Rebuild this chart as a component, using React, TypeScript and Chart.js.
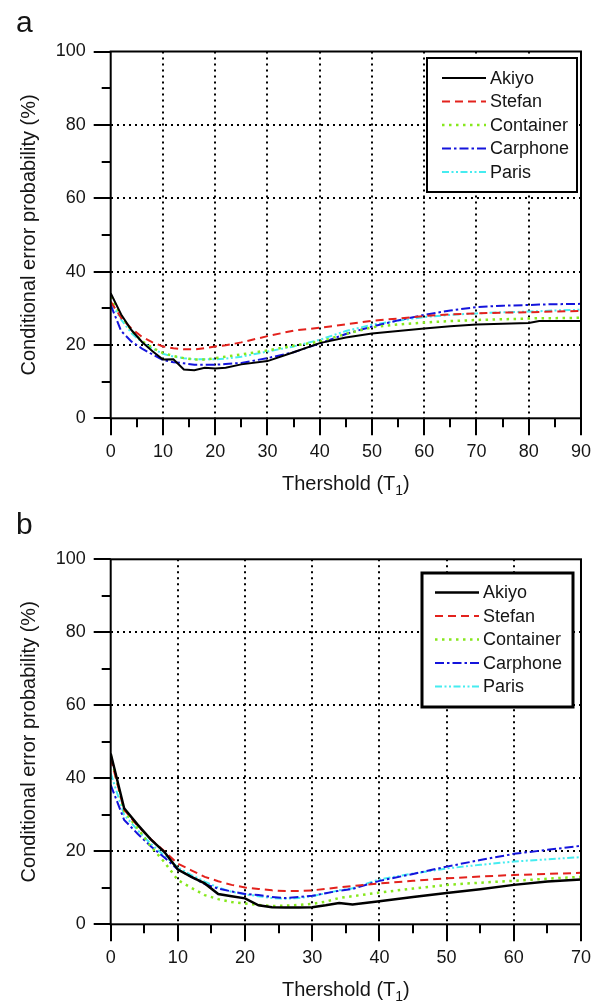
import { useEffect, useRef } from 'react';
import { Chart, registerables } from 'chart.js';

Chart.register(...registerables);

// ---------- data ----------
const SERIES_NAMES = ['Akiyo', 'Stefan', 'Container', 'Carphone', 'Paris'];

// panel a
const X_A = [0, 2, 4, 6, 8, 10, 12, 14, 16, 18, 20, 22, 25, 30, 35, 40, 45, 50, 55, 60, 65, 70, 75, 80, 82, 85, 90];
const AKIYO_A = [34.1, 28.3, 24.0, 20.8, 18.3, 16.0, 16.1, 13.3, 13.1, 13.8, 13.6, 13.8, 14.7, 15.6, 18.0, 20.5, 22.0, 23.1, 23.8, 24.5, 25.1, 25.6, 25.8, 26.0, 26.5, 26.5, 26.5];
const STEFAN_A = [31.8, 27.4, 24.4, 22.2, 20.7, 19.6, 19.1, 18.8, 18.8, 19.1, 19.6, 19.9, 20.7, 22.4, 23.9, 24.7, 25.6, 26.6, 27.2, 27.9, 28.3, 28.6, 28.8, 28.9, 29.0, 29.1, 29.3];
const CONTAINER_A = [33.2, 27.9, 23.9, 21.0, 19.2, 17.8, 17.0, 16.4, 16.0, 16.0, 16.4, 16.8, 17.4, 18.5, 19.8, 20.9, 23.0, 24.8, 25.6, 26.1, 26.5, 26.8, 27.0, 27.2, 27.3, 27.3, 27.4];
const CARPHONE_A = [30.9, 23.8, 20.9, 19.0, 17.4, 15.9, 15.3, 15.0, 14.6, 14.6, 14.6, 14.8, 15.1, 16.4, 18.0, 20.4, 23.0, 25.0, 26.7, 28.2, 29.4, 30.3, 30.7, 30.9, 31.0, 31.1, 31.2];
const PARIS_A = [31.6, 26.9, 23.2, 20.7, 19.0, 17.6, 16.8, 16.4, 16.1, 16.1, 16.1, 16.3, 16.8, 18.2, 19.6, 21.4, 23.8, 25.5, 26.6, 27.6, 28.2, 28.6, 28.9, 29.1, 29.2, 29.4, 29.6];

// panel b
const X_B = [0, 2, 4, 6, 8, 10, 12, 14, 16, 18, 20, 22, 24, 26, 28, 30, 32, 34, 36, 40, 45, 50, 55, 60, 65, 70];
const AKIYO_B = [46.8, 31.8, 27.3, 23.2, 19.8, 15.0, 13.0, 11.2, 8.3, 7.7, 7.1, 5.2, 4.7, 4.6, 4.6, 4.7, 5.2, 5.8, 5.4, 6.3, 7.5, 8.6, 9.6, 10.8, 11.7, 12.3];
const STEFAN_B = [45.5, 31.4, 27.0, 23.3, 20.0, 16.6, 14.8, 13.0, 11.8, 10.8, 10.1, 9.7, 9.3, 9.1, 9.1, 9.3, 9.7, 10.1, 10.5, 11.2, 11.9, 12.6, 13.1, 13.5, 13.8, 14.1];
const CONTAINER_B = [46.3, 31.0, 26.3, 21.3, 17.0, 12.1, 10.0, 8.0, 6.9, 6.1, 5.7, 5.3, 5.0, 5.1, 5.3, 5.6, 6.2, 7.2, 7.7, 8.7, 9.8, 10.8, 11.4, 11.9, 12.5, 13.0];
const CARPHONE_B = [38.2, 28.6, 24.8, 21.3, 18.3, 15.0, 13.0, 11.0, 9.8, 9.0, 8.3, 8.0, 7.5, 7.2, 7.5, 7.8, 8.5, 9.2, 9.7, 11.9, 13.8, 15.8, 17.6, 19.3, 20.4, 21.5];
const PARIS_B = [41.4, 30.0, 25.8, 22.0, 18.8, 15.6, 13.5, 11.7, 10.1, 8.9, 8.2, 7.7, 7.2, 7.0, 7.2, 7.7, 8.5, 9.3, 9.9, 12.3, 13.9, 15.3, 16.3, 17.2, 17.8, 18.4];

const Y_MAX = 100;
const X_MAX_A = 90;
const X_MAX_B = 70;
const X_TITLE = 'Thershold (T';
const X_TITLE_SUB = '1';
const Y_TITLE = 'Conditional error probability (%)';

// ---------- styles ----------
const FONT = '"Liberation Sans", Arial, Helvetica, sans-serif';
const STYLES = [
  { color: '#000000', dash: [] as number[], width: 2 },
  { color: '#e3221d', dash: [8, 5], width: 2 },
  { color: '#86e81c', dash: [2.5, 4.5], width: 2.5 },
  { color: '#1414dc', dash: [9, 3, 2.5, 3], width: 2 },
  { color: '#45ecf0', dash: [7, 2.5, 2, 2.5, 2, 2.5], width: 2 },
];

type LegendBox = { x: number; y: number; w: number; h: number; border: number; row0: number; gap: number; s0: number; s1: number; tx: number };
type PanelCfg = {
  letter: string;
  letterY: number;
  height: number;
  top: number;
  bottom: number;
  xMax: number;
  xs: number[];
  series: number[][];
  legend: LegendBox;
  lineBoost: number;
};

function makeDecor(cfg: PanelCfg) {
  return {
    id: 'decor' + cfg.letter,
    afterDraw(chart: any) {
      const ctx = chart.ctx as CanvasRenderingContext2D;
      const { left, right, top, bottom } = chart.chartArea;
      const xs = chart.scales.x;
      const ys = chart.scales.y;
      ctx.save();
      ctx.setLineDash([]);
      ctx.strokeStyle = '#000';
      ctx.lineWidth = 2;
      // frame
      ctx.strokeRect(left, top, right - left, bottom - top);
      // ticks
      ctx.beginPath();
      for (const t of xs.ticks) {
        const px = Math.round(xs.getPixelForValue(t.value)) + 0.0;
        const len = t.value % 10 === 0 ? 17 : 9;
        ctx.moveTo(px, bottom);
        ctx.lineTo(px, bottom + len);
      }
      for (const t of ys.ticks) {
        const py = Math.round(ys.getPixelForValue(t.value));
        const len = t.value % 20 === 0 ? 17 : 9;
        ctx.moveTo(left - len, py);
        ctx.lineTo(left, py);
      }
      ctx.stroke();

      // legend
      const L = cfg.legend;
      ctx.fillStyle = '#fff';
      ctx.fillRect(L.x, L.y, L.w, L.h);
      ctx.lineWidth = L.border;
      ctx.strokeStyle = '#000';
      ctx.strokeRect(L.x, L.y, L.w, L.h);
      chart.data.datasets.forEach((ds: any, i: number) => {
        const y = L.row0 + i * L.gap;
        ctx.strokeStyle = ds.borderColor;
        ctx.lineWidth = ds.borderWidth;
        ctx.setLineDash(ds.borderDash || []);
        ctx.beginPath();
        ctx.moveTo(L.s0, y);
        ctx.lineTo(L.s1, y);
        ctx.stroke();
        ctx.setLineDash([]);
        ctx.fillStyle = '#151515';
        ctx.font = '18px ' + FONT;
        ctx.textAlign = 'left';
        ctx.textBaseline = 'middle';
        ctx.fillText(ds.label, L.tx, y + 1);
      });

      // axis titles
      ctx.fillStyle = '#151515';
      ctx.font = '20px ' + FONT;
      ctx.textBaseline = 'alphabetic';
      const main = X_TITLE;
      const closing = ')';
      const wMain = ctx.measureText(main).width;
      const wClose = ctx.measureText(closing).width;
      ctx.font = '14px ' + FONT;
      const wSub = ctx.measureText(X_TITLE_SUB).width;
      const total = wMain + wSub + wClose;
      const cx = (left + right) / 2;
      const by = bottom + 72;
      let x0 = cx - total / 2;
      ctx.font = '20px ' + FONT;
      ctx.textAlign = 'left';
      ctx.fillText(main, x0, by);
      ctx.font = '14px ' + FONT;
      ctx.fillText(X_TITLE_SUB, x0 + wMain, by + 5);
      ctx.font = '20px ' + FONT;
      ctx.fillText(closing, x0 + wMain + wSub, by);

      ctx.save();
      ctx.translate(29, (top + bottom) / 2);
      ctx.rotate(-Math.PI / 2);
      ctx.textAlign = 'center';
      ctx.textBaseline = 'middle';
      ctx.fillText(Y_TITLE, 0, 0);
      ctx.restore();

      // panel letter
      ctx.font = '30px ' + FONT;
      ctx.textAlign = 'left';
      ctx.textBaseline = 'alphabetic';
      ctx.fillText(cfg.letter, 16, cfg.letterY);
      ctx.restore();
    },
  };
}

function Panel({ cfg }: { cfg: PanelCfg }) {
  const ref = useRef<HTMLCanvasElement>(null);
  useEffect(() => {
    if (!ref.current) return;
    const datasets = SERIES_NAMES.map((name, i) => ({
      label: name,
      data: cfg.xs.map((x, j) => ({ x, y: cfg.series[i][j] })),
      borderColor: STYLES[i].color,
      backgroundColor: STYLES[i].color,
      borderDash: STYLES[i].dash,
      borderWidth: STYLES[i].width + (i === 0 ? cfg.lineBoost : 0),
      pointRadius: 0,
      tension: 0,
      fill: false,
    }));
    const xMax = cfg.xMax;
    const chart = new Chart(ref.current, {
      type: 'line',
      data: { datasets },
      options: {
        animation: false,
        responsive: false,
        devicePixelRatio: 1,
        layout: { padding: { left: 0, right: 28, top: cfg.top, bottom: 0 } },
        plugins: { legend: { display: false }, tooltip: { enabled: false } },
        scales: {
          x: {
            type: 'linear',
            min: 0,
            max: xMax,
            ticks: {
              stepSize: 5,
              autoSkip: false,
              maxRotation: 0,
              padding: 23,
              color: '#151515',
              font: { size: 18, family: FONT },
              callback: (v: any) => (Number(v) % 10 === 0 ? String(v) : ''),
            },
            grid: {
              drawTicks: false,
              lineWidth: 2,
              color: (c: any) => {
                const v = c.tick ? c.tick.value : -1;
                return v % 10 === 0 && v > 0 && v < xMax ? '#000' : 'rgba(0,0,0,0)';
              },
            },
            border: { display: false, dash: [2, 4] },
            afterFit: (s: any) => {
              s.height = cfg.height - cfg.bottom;
            },
          },
          y: {
            type: 'linear',
            min: 0,
            max: Y_MAX,
            ticks: {
              stepSize: 10,
              autoSkip: false,
              padding: 25,
              color: '#151515',
              font: { size: 18, family: FONT },
              callback: (v: any) => (Number(v) % 20 === 0 ? String(v) : ''),
            },
            grid: {
              drawTicks: false,
              lineWidth: 2,
              color: (c: any) => {
                const v = c.tick ? c.tick.value : -1;
                return v % 20 === 0 && v > 0 && v < Y_MAX ? '#000' : 'rgba(0,0,0,0)';
              },
            },
            border: { display: false, dash: [2, 4] },
            afterFit: (s: any) => {
              s.width = 110.7;
            },
          },
        },
      } as any,
      plugins: [makeDecor(cfg)],
    });
    return () => chart.destroy();
  }, [cfg]);
  return <canvas ref={ref} width={614} height={cfg.height} style={{ display: 'block', width: 614, height: cfg.height }} />;
}

const PANEL_A: PanelCfg = {
  letter: 'a',
  letterY: 32,
  height: 505,
  top: 51.5,
  bottom: 418.3,
  xMax: X_MAX_A,
  xs: X_A,
  series: [AKIYO_A, STEFAN_A, CONTAINER_A, CARPHONE_A, PARIS_A],
  legend: { x: 427, y: 58, w: 150, h: 134, border: 2, row0: 78, gap: 23.5, s0: 442, s1: 486, tx: 490 },
  lineBoost: 0,
};

const PANEL_B: PanelCfg = {
  letter: 'b',
  letterY: 29,
  height: 500,
  top: 54.3,
  bottom: 419.3,
  xMax: X_MAX_B,
  xs: X_B,
  series: [AKIYO_B, STEFAN_B, CONTAINER_B, CARPHONE_B, PARIS_B],
  legend: { x: 422, y: 68, w: 151, h: 134, border: 3, row0: 87.5, gap: 23.5, s0: 435, s1: 479, tx: 483 },
  lineBoost: 0.5,
};

export default function App() {
  return (
    <div style={{ position: 'absolute', left: 0, top: 0, width: 614, height: 1005, background: '#fff', overflow: 'hidden' }}>
      <Panel cfg={PANEL_A} />
      <Panel cfg={PANEL_B} />
    </div>
  );
}
